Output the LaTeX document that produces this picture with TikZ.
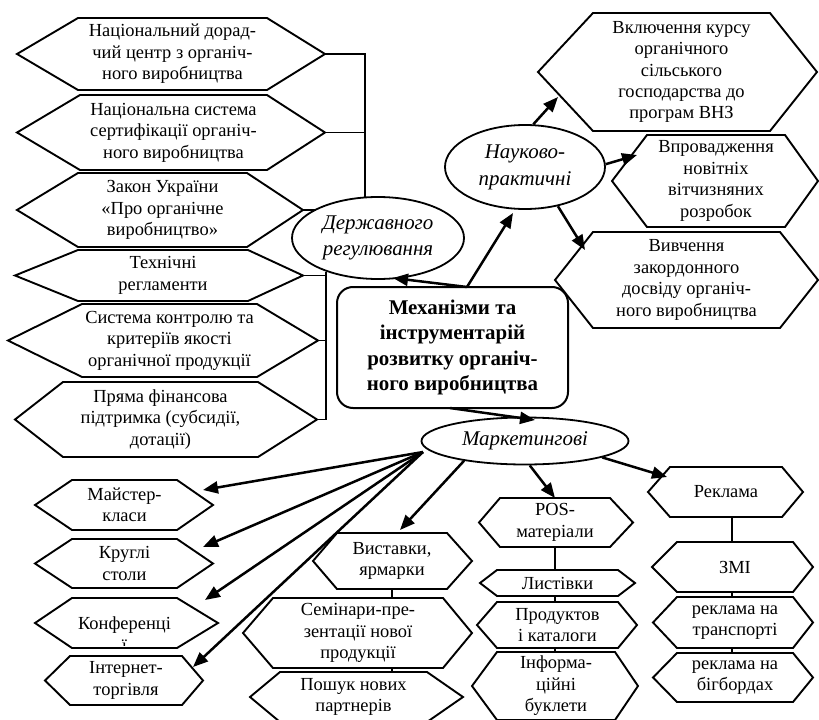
\documentclass[tikz,border=0pt]{standalone}
\usepackage{fontspec}
\setmainfont{Liberation Serif}
\usetikzlibrary{arrows.meta,shapes.geometric}
\tikzset{
  hexline/.style={draw=black, line width=1.9bp, fill=white, line join=miter},
  hextext/.style={align=center, inner sep=0pt, font=\fontsize{18.5}{21.5}\selectfont},
  conn/.style={draw=black, line width=1.9bp},
  arr/.style={draw=black, line width=2.5bp, -{Triangle[length=15bp,width=12bp]}},
  oval/.style={ellipse, draw=black, line width=1.8bp, fill=white, inner sep=0pt, align=center,
     font=\fontsize{21}{26}\selectfont\itshape},
  mainbox/.style={rectangle, rounded corners=16bp, draw=black, line width=2bp, fill=white,
     align=center, inner sep=0pt, font=\fontsize{21}{25.6}\selectfont\bfseries}
}
% name, xL, xa, xb, xR, ytop, ybot, text
\newcommand\hexa[8]{%
  \coordinate (#1-L) at (#2,{(#6+#7)/2});
  \coordinate (#1-R) at (#5,{(#6+#7)/2});
  \coordinate (#1-T) at ({(#3+#4)/2},#6);
  \coordinate (#1-B) at ({(#3+#4)/2},#7);
  \draw[hexline] (#1-L) -- (#3,#6) -- (#4,#6) -- (#1-R) -- (#4,#7) -- (#3,#7) -- cycle;
  \node[hextext] (#1) at ({(#3+#4)/2},{(#6+#7)/2}) {#8};
}
\begin{document}
\begin{tikzpicture}[x=1bp,y=-1bp]
\useasboundingbox (0,0) rectangle (819,720);
\fill[white] (0,0) rectangle (819,720);
\clip (0,0) rectangle (819,720);

% ---------- left column (Державного регулювання)
\hexa{h1}{17}{78}{267}{325}{18}{90}{Національний дорад-\\чий центр з органіч-\\ного виробництва}
\hexa{h2}{17}{80}{267}{325}{95}{170}{Національна система\\сертифікації органіч-\\ного виробництва}
\hexa{h3}{17}{78}{247}{303}{173}{247}{Закон України\\«Про органічне\\виробництво»}
\hexa{h4}{15}{78}{248}{303}{250}{301}{Технічні\\регламенти}
\hexa{h5}{8}{82}{257}{318}{304}{377}{Система контролю та\\критеріїв якості\\органічної продукції}
\hexa{h6}{15}{63}{258}{317}{382}{457}{Пряма фінансова\\підтримка (субсидії,\\дотації)}

% ---------- right top (Науково-практичні)
\hexa{n1}{538}{593}{770}{817}{13}{131}{Включення курсу\\органічного\\сільського\\господарства до\\програм ВНЗ}
\hexa{n2}{612}{647}{785}{818}{135}{227}{\fontsize{18.5}{19.5}\selectfont Впровадження\\новітніх\\вітчизняних\\розробок}
\hexa{n3}{555}{593}{780}{818}{232}{328}{\fontsize{18.5}{20}\selectfont Вивчення\\закордонного\\досвіду органіч-\\ного виробництва}

% ---------- bottom left (Маркетингові)
\hexa{m1}{35}{72}{177}{213}{480}{530}{Майстер-\\класи}
\hexa{m2}{35}{72}{177}{213}{539}{588}{Круглі\\столи}
\hexa{m3}{35}{72}{177}{218}{598}{648}{}
\begin{scope}
  \clip (0,0) rectangle (819,645);
  \node[hextext] (m3t) at (124.5,634) {Конференці\\ї};
\end{scope}
\hexa{m4}{45}{70}{182}{203}{656}{705}{Інтернет-\\торгівля}

% ---------- middle
\hexa{v1}{313}{337}{447}{472}{533}{589}{Виставки,\\ярмарки}
\hexa{v2}{243}{273}{443}{472}{598}{668}{Семінари-пре-\\зентації нової\\продукції}
\hexa{v3}{250}{280}{427}{463}{672}{722}{Пошук нових\\партнерів}

% ---------- POS column
\hexa{p1}{479}{500}{610}{633}{498}{547}{POS-\\матеріали}
\hexa{p2}{480}{497}{618}{635}{570}{596}{Листівки}
\hexa{p3}{477}{497}{618}{637}{602}{648}{Продуктов\\і каталоги}
\hexa{p4}{472}{497}{615}{638}{652}{720}{Інформа-\\ційні\\буклети}

% ---------- Реклама column
\hexa{r1}{648}{670}{782}{803}{467}{517}{Реклама}
\hexa{r2}{652}{677}{793}{813}{542}{592}{ЗМІ}
\hexa{r3}{653}{677}{793}{813}{597}{648}{реклама на\\транспорті}
\hexa{r4}{653}{677}{793}{813}{653}{702}{реклама на\\бігбордах}

% ---------- ellipses and main box
\node[oval, minimum width=172bp, minimum height=82bp] (ds) at (378,238) {Державного\\регулювання};
\node[oval, minimum width=160bp, minimum height=84bp, font=\fontsize{21}{27}\selectfont\itshape] (nk) at (525,167) {Науково-\\практичні};
\node[oval, minimum width=207bp, minimum height=47bp] (mk) at (525,441) {Маркетингові};
\node[mainbox, minimum width=231bp, minimum height=121bp] (main) at (452.5,347.5)
  {Механізми та\\інструментарій\\розвитку органіч-\\ного виробництва};

% ---------- plain connectors (Державного)
\draw[conn] (h1-R) -| (ds.108);
\draw[conn] (h2-R) -- (h2-R -| ds.108);
\draw[conn] (h3-R) -- (h3-R -| ds.155);
\draw[conn] (ds.213) |- (h6-R);
\draw[conn] (h4-R) -- (h4-R -| ds.213);
\draw[conn] (h5-R) -- (h5-R -| ds.213);

% column connectors
\draw[conn] (v1-B) -- (v1-B |- v2-T);
\draw[conn] (v1-B |- v2-B) -- (v1-B |- v3-T);
\coordinate (pcol) at (555,0);
\draw[conn] (p1-B -| pcol) -- (p2-T -| pcol);
\draw[conn] (p2-B -| pcol) -- (p3-T -| pcol);
\draw[conn] (p3-B -| pcol) -- (p4-T -| pcol);
\coordinate (rcol) at (732,0);
\draw[conn] (r1-B -| rcol) -- (r2-T -| rcol);
\draw[conn] (r2-B -| rcol) -- (r3-T -| rcol);
\draw[conn] (r3-B -| rcol) -- (r4-T -| rcol);

% ---------- arrows
\coordinate (mtop) at (467,287);
\coordinate (mbot) at (450,408);
\coordinate (tDs) at (393,278);
\coordinate (tNk) at (513,213);
\coordinate (tMk) at (535,420);
\draw[arr] (mtop) -- (tDs);
\draw[arr] (mtop) -- (tNk);
\draw[arr] (mbot) -- (tMk);

\coordinate (tN1) at (558,97);
\coordinate (tN2) at (637,155);
\coordinate (tN3) at (585,250);
\draw[arr] (nk.79) -- (tN1);
\draw[arr] (nk.2) -- (tN2);
\draw[arr] (nk.-50) -- (tN3);

\coordinate (tR) at (667,477);
\coordinate (tP) at (555,498);
\coordinate (tV) at (400,530);
\draw[arr] (mk.-12) -- (tR);
\draw[arr] (mk.-79) -- (tP);
\draw[arr] (mk.198) -- (tV);
\coordinate (tM1) at (203,490);
\coordinate (tM2) at (203,547);
\coordinate (tM3) at (205,600);
\coordinate (tM4) at (193,667);
\coordinate (mL) at (423,452);
\draw[arr] (mL) -- (tM1);
\draw[arr] (mL) -- (tM2);
\draw[arr] (mL) -- (tM3);
\draw[arr] (mL) -- (tM4);
\end{tikzpicture}
\end{document}
